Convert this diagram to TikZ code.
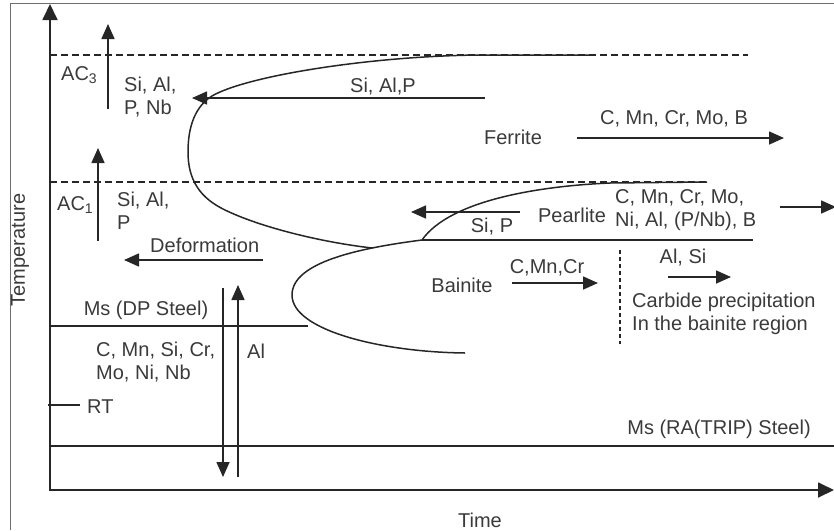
\documentclass[tikz,border=0pt]{standalone}
\usepackage{fontspec}
\setmainfont{Liberation Sans}
\usetikzlibrary{arrows.meta}
\definecolor{ink}{HTML}{262626}
\definecolor{txtc}{HTML}{3A3A3A}
\definecolor{framec}{HTML}{6E6E6E}
\begin{document}
\begin{tikzpicture}[x=1pt,y=-1pt,
  txt/.style={text=txtc, inner sep=0pt, font=\fontsize{20}{23}\selectfont, align=left},
  ln/.style={draw=ink, line width=1.6pt},
  curve/.style={draw=ink, line width=1.5pt},
  arr/.style={ln, -{Triangle[length=15pt,width=13pt]}},
  axisarr/.style={draw=ink, line width=1.8pt, {Triangle[length=16pt,width=15pt]}-{Triangle[length=16pt,width=15pt]}},
  tline/.style={ln, dash pattern=on 7pt off 4pt},
  sepline/.style={draw=ink, line width=1.1pt, dash pattern=on 4pt off 3pt}]
\useasboundingbox (0,0) rectangle (834,530);

% outer frame (left and top edges)
\draw[framec, line width=0.9pt] (10,530) -- (10,3) -- (834,3);

% axes
\coordinate (ytop) at (50,4);
\coordinate (O) at (50,490);
\coordinate (xend) at (834,490);
\draw[axisarr] (ytop) -- (O) -- (xend);
\node[txt, rotate=90] (temp) at (20,250) {Temperature};
\node[txt] (time) at (480,520) {Time};

% critical temperatures
\coordinate (ac3a) at (50,55);  \coordinate (ac3b) at (748,55);
\coordinate (ac1a) at (50,182); \coordinate (ac1b) at (707,182);
\draw[tline] (ac3a) -- (ac3b);
\draw[tline] (ac1a) -- (ac1b);
\node[txt, anchor=west] (ac3) at (61,75) {AC\textsubscript{3}};
\node[txt, anchor=west] (ac1) at (57,205) {AC\textsubscript{1}};

% ferrite C-curve
\coordinate (fnose) at (188,152);
\coordinate (ftop) at (590,55);
\coordinate (fend) at (372,248);
\draw[curve] (ftop) -- (480,55) .. controls (370,56) and (246,76) .. (212,96)
  .. controls (196,106) and (188,125) .. (fnose)
  .. controls (188,180) and (200,198) .. (225,210)
  .. controls (260,227) and (320,242) .. (fend);

% bainite C-curve
\coordinate (bjoin) at (422,240);
\coordinate (bnose) at (292,295);
\coordinate (bend) at (465,353);
\draw[curve] (bjoin) .. controls (360,248) and (292,262) .. (bnose)
  .. controls (292,330) and (380,352) .. (bend);

% pearlite curve and line
\coordinate (pend) at (707,182);
\coordinate (pline) at (753,240);
\draw[curve] (bjoin) .. controls (450,200) and (540,186) .. (610,183) -- (pend);
\draw[ln] (bjoin) -- (pline);

% Ms lines and RT
\coordinate (msdpa) at (50,326);  \coordinate (msdpb) at (308,326);
\coordinate (msraa) at (50,446);  \coordinate (msrab) at (834,446);
\coordinate (rta) at (48,405);    \coordinate (rtb) at (80,405);
\draw[ln] (msdpa) -- (msdpb);
\draw[ln] (msraa) -- (msrab);
\draw[draw=ink, line width=1.2pt] (rta) -- (rtb);
\node[txt] (msdp) at (146,310) {Ms (DP Steel)};
\node[txt] (msra) at (719,429) {Ms (RA(TRIP) Steel)};
\node[txt, anchor=west] (rt) at (87,407) {RT};

% alloying arrows: left region
\coordinate (u3a) at (108,109); \coordinate (u3b) at (108,24);
\draw[arr] (u3a) -- (u3b);
\node[txt, anchor=west] (el3) at (124,97) {Si, Al,\\P, Nb};
\coordinate (u1a) at (98,241); \coordinate (u1b) at (98,148);
\draw[arr] (u1a) -- (u1b);
\node[txt, anchor=west] (el1) at (117,211) {Si, Al,\\P};
\coordinate (dfa) at (263,260); \coordinate (dfb) at (124,260);
\draw[arr] (dfa) -- (dfb);
\node[txt, anchor=west] (def) at (150,245) {Deformation};

% ferrite region
\coordinate (fla) at (485,98); \coordinate (flb) at (192,98);
\draw[arr] (fla) -- (flb);
\node[txt] (fl) at (383,87) {Si, Al,P};
\node[txt] (ferr) at (513,137) {Ferrite};
\coordinate (fra) at (577,138); \coordinate (frb) at (784,138);
\draw[arr] (fra) -- (frb);
\node[txt] (fr) at (674,119) {C, Mn, Cr, Mo, B};

% pearlite region
\coordinate (pla) at (520,212); \coordinate (plb) at (411,212);
\draw[arr] (pla) -- (plb);
\node[txt] (pl) at (492,227) {Si, P};
\node[txt] (pear) at (572,215) {Pearlite};
\node[txt, anchor=west] (pr) at (615,210) {C, Mn, Cr, Mo,\\Ni, Al, (P/Nb), B};
\coordinate (pra) at (780,207); \coordinate (prb) at (836,207);
\draw[arr] (pra) -- (prb);

% bainite region
\node[txt] (bain) at (462,285) {Bainite};
\coordinate (bra) at (512,283); \coordinate (brb) at (598,283);
\draw[arr] (bra) -- (brb);
\node[txt] (br) at (547,268) {C,Mn,Cr};
\coordinate (sepa) at (620,250); \coordinate (sepb) at (620,344);
\draw[sepline] (sepa) -- (sepb);
\node[txt] (alsi) at (683,258) {Al, Si};
\coordinate (cba) at (668,277); \coordinate (cbb) at (731,277);
\draw[arr] (cba) -- (cbb);
\node[txt, anchor=west] (carb) at (632,314) {Carbide precipitation\\In the bainite region};

% martensite region
\node[txt, anchor=west] (el0) at (96,362) {C, Mn, Si, Cr,\\Mo, Ni, Nb};
\coordinate (dna) at (223,288); \coordinate (dnb) at (223,477);
\draw[arr] (dna) -- (dnb);
\coordinate (upa) at (238,477); \coordinate (upb) at (238,285);
\draw[arr] (upa) -- (upb);
\node[txt, anchor=west] (al) at (247,351) {Al};
\end{tikzpicture}
\end{document}
